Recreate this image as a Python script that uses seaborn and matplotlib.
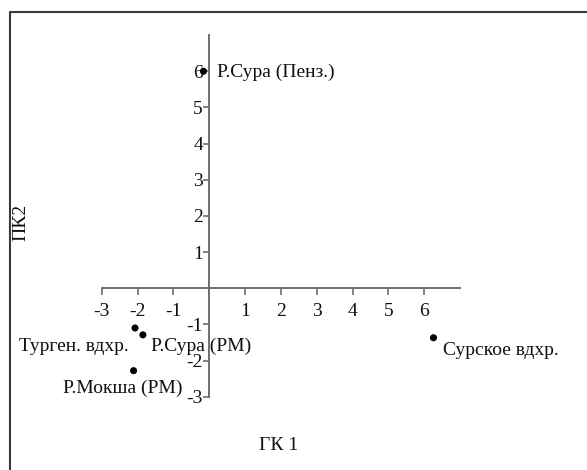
import matplotlib
matplotlib.use("Agg")
import matplotlib.pyplot as plt
from matplotlib.lines import Line2D
import seaborn as sns
import pandas as pd

# Component scores of the sampling sites
sites = ["Р.Сура (Пенз.)", "Турген. вдхр.", "Р.Сура (РМ)", "Р.Мокша (РМ)", "Сурское вдхр."]
pc1 = [-0.16, -2.07, -1.85, -2.11, 6.26]
pc2 = [6.0, -1.10, -1.29, -2.28, -1.37]

x_ticks = [-3, -2, -1, 1, 2, 3, 4, 5, 6]
y_ticks = [-3, -2, -1, 1, 2, 3, 4, 5, 6]

df = pd.DataFrame({"site": sites, "ГК 1": pc1, "ПК2": pc2})

sns.set_theme(style="white")
plt.rcParams["font.family"] = ["Liberation Serif", "DejaVu Serif"]
FS = 14

W, H, DPI = 587, 470, 100
fig = plt.figure(figsize=(W / DPI, H / DPI), dpi=DPI)
fig.patch.set_facecolor("white")

# axes box spans -3..7 on both axes
left_px, right_px, top_px, bottom_px = 101.7, 460.0, 35.1, 396.7
ax = fig.add_axes([left_px / W, 1 - bottom_px / H,
                   (right_px - left_px) / W, (bottom_px - top_px) / H])

sns.scatterplot(data=df, x="ГК 1", y="ПК2", ax=ax, color="black",
                s=26, edgecolor="none", zorder=5, clip_on=False)

ax.set_xlim(-3, 7)
ax.set_ylim(-3, 7)

axis_color = "#6e6e6e"
for side in ("top", "right"):
    ax.spines[side].set_visible(False)
for side in ("left", "bottom"):
    ax.spines[side].set_position(("data", 0))
    ax.spines[side].set_color(axis_color)
    ax.spines[side].set_linewidth(1.4)

ax.set_xticks(x_ticks)
ax.set_yticks(y_ticks)
ax.set_xticklabels([str(v) for v in x_ticks])
ax.set_yticklabels([str(v) for v in y_ticks])
ax.tick_params(axis="x", bottom=True, direction="out", length=5, width=1.2,
               color=axis_color, pad=6, labelsize=FS, labelcolor="#111111")
ax.tick_params(axis="y", left=True, direction="out", length=4, width=1.2,
               color=axis_color, pad=0.5, labelsize=FS, labelcolor="#111111")
ax.set_facecolor("none")

# point labels, offsets in points
offsets = {
    "Р.Сура (Пенз.)": ((10, -0.5), "left"),
    "Турген. вдхр.": ((-4.5, -13.5), "right"),
    "Р.Сура (РМ)": ((5.5, -8.5), "left"),
    "Р.Мокша (РМ)": ((-8, -13), "center"),
    "Сурское вдхр.": ((6.5, -9), "left"),
}
for name, x, y in zip(sites, pc1, pc2):
    (dx, dy), ha = offsets[name]
    ax.annotate(name, (x, y), xytext=(dx, dy), textcoords="offset points",
                ha=ha, va="center", fontsize=FS, color="#111111",
                annotation_clip=False)

ax.set_xlabel("ГК 1", fontsize=FS, color="#111111", va="center")
ax.set_ylabel("ПК2", fontsize=FS, color="#111111", va="center")
ax.xaxis.set_label_coords((279 - left_px) / (right_px - left_px),
                          (bottom_px - 445) / (bottom_px - top_px))
ax.yaxis.set_label_coords((21 - left_px) / (right_px - left_px),
                          (bottom_px - 222) / (bottom_px - top_px))

# outer frame: left and top edges
fx = 9.5 / W
fy = 1 - 11.5 / H
fig.add_artist(Line2D([fx, fx, 1.0], [0.0, fy, fy], transform=fig.transFigure,
                      color="#3a3a3a", linewidth=1.5))

fig.savefig("out.png", dpi=DPI, facecolor="white")
